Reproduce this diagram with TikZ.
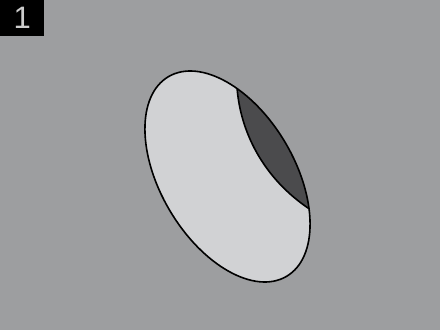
\documentclass[tikz,border=0pt]{standalone}
\usepackage{fontspec}
\setsansfont{Liberation Sans}
\definecolor{backdrop}{HTML}{9D9EA0}
\definecolor{seedbody}{HTML}{D1D2D4}
\definecolor{seedcut}{HTML}{4B4B4D}
\definecolor{tagtext}{HTML}{CDCDCD}

\begin{document}
\begin{tikzpicture}[
    x=1pt, y=1pt,
    every node/.style={font=\sffamily},
    outline/.style={black, line width=1.6pt},
    steptag/.style={fill=black, text=tagtext, font=\sffamily\fontsize{31}{31}\selectfont,
        inner sep=0pt, minimum width=44pt, minimum height=36pt, anchor=north west},
]
\def\seedshape{(227.5, 153.5) ellipse [x radius=116, y radius=67, rotate=-59.35]}

% ================================================================ backdrop
\fill[backdrop] (0, 0) rectangle (440, 330);
\useasboundingbox (0, 0) rectangle (440, 330);

\node[steptag] (tag) at (0, 330) {1};

% ================================================================ the seed
\fill[seedbody] \seedshape;

% the dark cut, kept inside the outline
\begin{scope}
    \clip \seedshape;
    \fill[seedcut] (237, 243) .. controls (240, 200) and (262, 152) .. (311, 120)
        -- (345, 110) -- (345, 300) -- (235, 300) -- cycle;
    \draw[outline] (237, 243) .. controls (240, 200) and (262, 152) .. (311, 120);
\end{scope}

\draw[outline] \seedshape;
\end{tikzpicture}
\end{document}
